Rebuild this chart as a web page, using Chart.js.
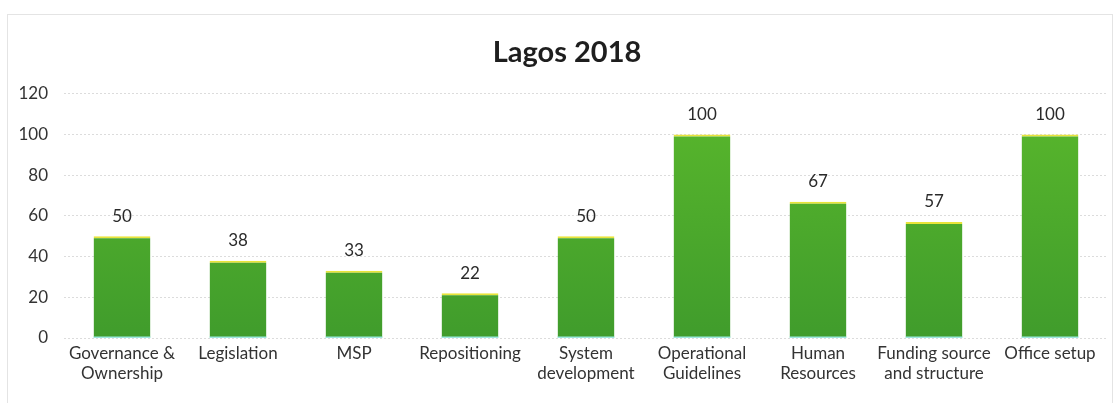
<!DOCTYPE html>
<html>
<head>
<meta charset="utf-8">
<script src="https://cdn.jsdelivr.net/npm/chart.js@4/dist/chart.umd.min.js"></script>
<style>
  html, body { margin: 0; padding: 0; background: #fff; }
  #wrap { position: relative; width: 1118px; height: 403px; overflow: hidden; }
  #frame { position: absolute; left: 7px; top: 14px; width: 1106px; height: 400px;
           border: 1px solid #e4e4e4; box-sizing: border-box; pointer-events: none; }
  canvas { position: absolute; left: 0; top: 0; }
</style>
</head>
<body>
<div id="wrap">
  <canvas id="c" width="1118" height="403"></canvas>
  <div id="frame"></div>
</div>
<script>
// Scores per component, Lagos 2018
const categories = [
  ['Governance &', 'Ownership'],
  'Legislation',
  'MSP',
  'Repositioning',
  ['System', 'development'],
  ['Operational', 'Guidelines'],
  ['Human', 'Resources'],
  ['Funding source', 'and structure'],
  'Office setup'
];
const scores = [50, 38, 33, 22, 50, 100, 67, 57, 100];
const yTicks = [0, 20, 40, 60, 80, 100, 120];

const FONT = 'Lato, "Open Sans", sans-serif';

// Vertical green gradient for the bars
function barFill(ctx) {
  const chart = ctx.chart;
  const area = chart.chartArea;
  if (!area) return '#4aa52b';
  const g = chart.ctx.createLinearGradient(0, area.top, 0, area.bottom);
  g.addColorStop(0, '#5ab82c');
  g.addColorStop(1, '#409c2c');
  return g;
}

// Nudge the title box so the heading sits a little right of centre
const titleShift = {
  id: 'titleShift',
  afterLayout(chart) {
    const t = chart.titleBlock;
    if (t) { t.left += 16; }
  }
};

// Value labels above bars plus thin cyan base line under each bar
const barDecor = {
  id: 'barDecor',
  afterDatasetsDraw(chart) {
    const ctx = chart.ctx;
    const meta = chart.getDatasetMeta(0);
    const data = chart.data.datasets[0].data;
    ctx.save();
    meta.data.forEach((bar, i) => {
      const half = bar.width / 2;
      ctx.fillStyle = '#9ee8e0';
      ctx.fillRect(bar.x - half, bar.base - 1, bar.width, 1.5);
      ctx.fillStyle = '#2a2a2a';
      ctx.font = '17px ' + FONT;
      ctx.textAlign = 'center';
      ctx.textBaseline = 'middle';
      ctx.fillText(String(data[i]), bar.x, bar.y - 20);
    });
    ctx.restore();
  }
};

new Chart(document.getElementById('c'), {
  type: 'bar',
  data: {
    labels: categories,
    datasets: [{
      data: scores,
      backgroundColor: barFill,
      borderColor: '#e8e43a',
      borderWidth: { top: 2, left: 0, right: 0, bottom: 0 },
      borderSkipped: 'bottom',
      categoryPercentage: 1.0,
      barPercentage: 0.49
    }]
  },
  options: {
    responsive: false,
    animation: false,
    devicePixelRatio: 1,
    layout: { padding: { top: 0, left: 10, right: 10, bottom: 0 } },
    plugins: {
      legend: { display: false },
      tooltip: { enabled: false },
      title: {
        display: true,
        text: 'Lagos 2018',
        color: '#1e1e1e',
        font: { family: FONT, size: 29, weight: 'bold', lineHeight: 1.2 },
        padding: { top: 35, bottom: 24 }
      }
    },
    scales: {
      x: {
        grid: { display: false, drawTicks: false },
        border: { display: false },
        ticks: {
          color: '#333333',
          font: { family: FONT, size: 17, lineHeight: 1.15 },
          maxRotation: 0,
          autoSkip: false,
          padding: 6
        },
        afterFit(scale) { scale.height = 65; }
      },
      y: {
        min: 0,
        max: 120,
        afterBuildTicks(scale) { scale.ticks = yTicks.map(v => ({ value: v })); },
        grid: {
          color: '#dcdcdc',
          lineWidth: 1,
          drawTicks: false
        },
        border: { display: false, dash: [2, 2] },
        ticks: {
          color: '#333333',
          font: { family: FONT, size: 17 },
          padding: 16
        },
        afterFit(scale) { scale.width = 54; }
      }
    }
  },
  plugins: [barDecor, titleShift]
});
</script>
</body>
</html>
